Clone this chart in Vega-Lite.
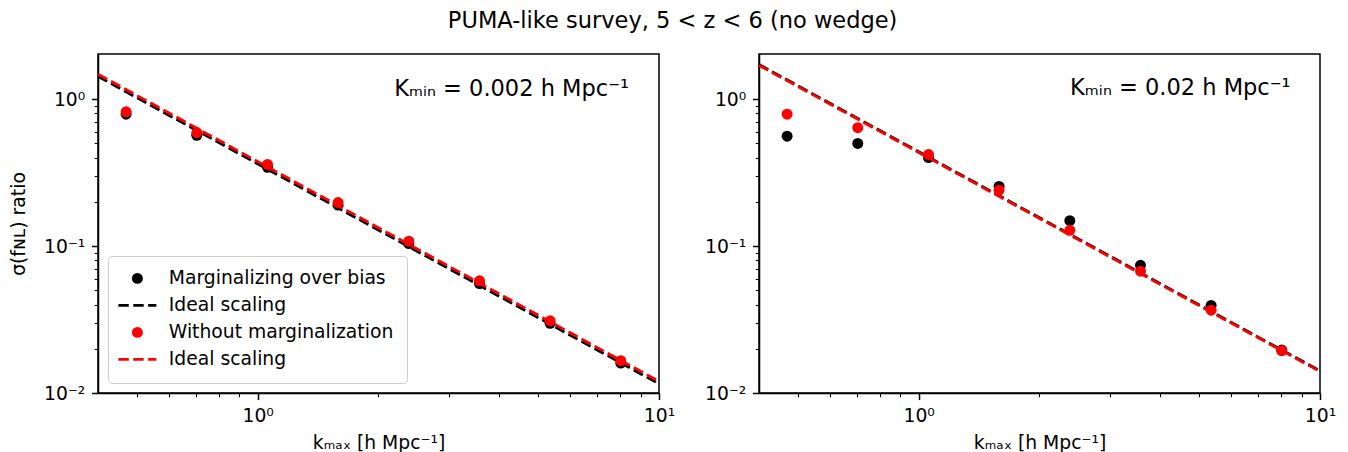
{
  "$schema": "https://vega.github.io/schema/vega-lite/v6.json",
  "padding": {"left": 8, "top": 9, "right": 5, "bottom": 0},
  "title": {
    "text": "PUMA-like survey, 5 < z < 6 (no wedge)",
    "fontSize": 22.5,
    "fontWeight": "normal",
    "font": "DejaVu Sans",
    "color": "black",
    "anchor": "middle",
    "offset": 21
  },
  "datasets": {
    "sigma": [
      {"panel": "L", "series": "a", "k": 0.47, "sigma": 0.79},
      {"panel": "L", "series": "a", "k": 0.705, "sigma": 0.568},
      {"panel": "L", "series": "a", "k": 1.058, "sigma": 0.344},
      {"panel": "L", "series": "a", "k": 1.586, "sigma": 0.19},
      {"panel": "L", "series": "a", "k": 2.38, "sigma": 0.104},
      {"panel": "L", "series": "a", "k": 3.57, "sigma": 0.0556},
      {"panel": "L", "series": "a", "k": 5.354, "sigma": 0.0298},
      {"panel": "L", "series": "a", "k": 8.03, "sigma": 0.016},
      {"panel": "L", "series": "c", "k": 0.47, "sigma": 0.82},
      {"panel": "L", "series": "c", "k": 0.705, "sigma": 0.593},
      {"panel": "L", "series": "c", "k": 1.058, "sigma": 0.36},
      {"panel": "L", "series": "c", "k": 1.586, "sigma": 0.198},
      {"panel": "L", "series": "c", "k": 2.38, "sigma": 0.108},
      {"panel": "L", "series": "c", "k": 3.57, "sigma": 0.058},
      {"panel": "L", "series": "c", "k": 5.354, "sigma": 0.031},
      {"panel": "L", "series": "c", "k": 8.03, "sigma": 0.0166},
      {"panel": "R", "series": "a", "k": 0.47, "sigma": 0.56},
      {"panel": "R", "series": "a", "k": 0.705, "sigma": 0.5},
      {"panel": "R", "series": "a", "k": 1.058, "sigma": 0.4},
      {"panel": "R", "series": "a", "k": 1.586, "sigma": 0.255},
      {"panel": "R", "series": "a", "k": 2.38, "sigma": 0.149},
      {"panel": "R", "series": "a", "k": 3.57, "sigma": 0.074},
      {"panel": "R", "series": "a", "k": 5.354, "sigma": 0.0395},
      {"panel": "R", "series": "a", "k": 8.03, "sigma": 0.0196},
      {"panel": "R", "series": "c", "k": 0.47, "sigma": 0.79},
      {"panel": "R", "series": "c", "k": 0.705, "sigma": 0.64},
      {"panel": "R", "series": "c", "k": 1.058, "sigma": 0.42},
      {"panel": "R", "series": "c", "k": 1.586, "sigma": 0.24},
      {"panel": "R", "series": "c", "k": 2.38, "sigma": 0.128},
      {"panel": "R", "series": "c", "k": 3.57, "sigma": 0.0675},
      {"panel": "R", "series": "c", "k": 5.354, "sigma": 0.0366},
      {"panel": "R", "series": "c", "k": 8.03, "sigma": 0.0194}
    ],
    "ideal": [
      {"panel": "L", "series": "b", "k": 0.4, "sigma": 1.43},
      {"panel": "L", "series": "b", "k": 10, "sigma": 0.01155},
      {"panel": "L", "series": "d", "k": 0.4, "sigma": 1.48},
      {"panel": "L", "series": "d", "k": 10, "sigma": 0.012},
      {"panel": "R", "series": "b", "k": 0.4, "sigma": 1.72},
      {"panel": "R", "series": "b", "k": 10, "sigma": 0.01415},
      {"panel": "R", "series": "d", "k": 0.4, "sigma": 1.7},
      {"panel": "R", "series": "d", "k": 10, "sigma": 0.014}
    ],
    "notes": [
      {"panel": "L", "k": 8.42, "sigma": 1.17, "label": "Kₘᵢₙ = 0.002 h Mpc⁻¹"},
      {"panel": "R", "k": 8.45, "sigma": 1.195, "label": "Kₘᵢₙ = 0.02 h Mpc⁻¹"}
    ]
  },
  "bounds": "flush",
  "spacing": 100,
  "resolve": {
    "scale": {"color": "independent", "x": "independent", "y": "independent"},
    "legend": {"color": "independent"}
  },
  "hconcat": [
    {
      "width": 561,
      "height": 339,
      "encoding": {
        "x": {
          "field": "k",
          "type": "quantitative",
          "scale": {"type": "log", "domain": [0.4, 10], "nice": false},
          "axis": {
            "title": "kₘₐₓ  [h Mpc⁻¹]",
            "titlePadding": 9,
            "values": [0.5, 0.6, 0.7, 0.8, 0.9, 1, 2, 3, 4, 5, 6, 7, 8, 9, 10],
            "labelExpr": "datum.value == 1 ? '10⁰' : datum.value == 10 ? '10¹' : ''",
            "tickSize": {"condition": {"test": "datum.value == 1 || datum.value == 10", "value": 6.6}, "value": 3.75},
            "tickWidth": {"condition": {"test": "datum.value == 1 || datum.value == 10", "value": 1.5}, "value": 1.1}
          }
        },
        "y": {
          "field": "sigma",
          "type": "quantitative",
          "scale": {"type": "log", "domain": [0.01, 2.03], "nice": false},
          "axis": {
            "title": "σ(fɴʟ) ratio",
            "values": [0.01, 0.02, 0.03, 0.04, 0.05, 0.06, 0.07, 0.08, 0.09, 0.1, 0.2, 0.3, 0.4, 0.5, 0.6, 0.7, 0.8, 0.9, 1],
            "labelExpr": "datum.value == 0.01 ? '10⁻²' : datum.value == 0.1 ? '10⁻¹' : datum.value == 1 ? '10⁰' : ''",
            "tickSize": {"condition": {"test": "datum.value == 0.01 || datum.value == 0.1 || datum.value == 1", "value": 6.6}, "value": 3.75},
            "tickWidth": {"condition": {"test": "datum.value == 0.01 || datum.value == 0.1 || datum.value == 1", "value": 1.5}, "value": 1.1},
            "titlePadding": 15
          }
        }
      },
      "layer": [
        {
          "data": {"name": "sigma"},
          "transform": [{"filter": "datum.panel == 'L' && datum.series == 'a'"}],
          "mark": {"type": "circle", "size": 120, "opacity": 1},
          "encoding": {
            "color": {
              "field": "series",
              "type": "nominal",
              "scale": {"domain": ["a", "b", "c", "d"], "range": ["black", "black", "red", "red"]},
              "legend": {
                "title": null,
                "orient": "bottom-left",
                "offset": 10,
                "padding": 13,
                "fillColor": "white",
                "strokeColor": "#cccccc",
                "cornerRadius": 4,
                "labelFontSize": 18.75,
                "labelFont": "DejaVu Sans",
                "labelColor": "black",
                "labelLimit": 400,
                "symbolOffset": 7,
                "labelOffset": 22,
                "rowPadding": 7,
                "symbolType": {"expr": "datum.value == 'b' || datum.value == 'd' ? 'stroke' : 'circle'"},
                "symbolSize": {"expr": "datum.value == 'b' || datum.value == 'd' ? 1444 : 120"},
                "symbolStrokeColor": {"expr": "datum.value == 'a' || datum.value == 'b' ? 'black' : 'red'"},
                "symbolStrokeWidth": {"expr": "datum.value == 'b' || datum.value == 'd' ? 2.8 : 0"},
                "symbolDash": {"expr": "datum.value == 'b' || datum.value == 'd' ? [10.4, 4.5] : [1, 0]"},
                "symbolOpacity": 1,
                "labelExpr": "datum.value == 'a' ? 'Marginalizing over bias' : datum.value == 'c' ? 'Without marginalization' : 'Ideal scaling'"
              }
            }
          }
        },
        {
          "data": {"name": "ideal"},
          "transform": [{"filter": "datum.panel == 'L' && datum.series == 'b'"}],
          "mark": {"type": "line", "strokeWidth": 2.8, "strokeDash": [10.4, 4.5], "clip": true},
          "encoding": {"color": {"field": "series", "type": "nominal"}}
        },
        {
          "data": {"name": "sigma"},
          "transform": [{"filter": "datum.panel == 'L' && datum.series == 'c'"}],
          "mark": {"type": "circle", "size": 120, "opacity": 1},
          "encoding": {"color": {"field": "series", "type": "nominal"}}
        },
        {
          "data": {"name": "ideal"},
          "transform": [{"filter": "datum.panel == 'L' && datum.series == 'd'"}],
          "mark": {"type": "line", "strokeWidth": 2.8, "strokeDash": [10.4, 4.5], "clip": true},
          "encoding": {"color": {"field": "series", "type": "nominal"}}
        },
        {
          "data": {"name": "notes"},
          "transform": [{"filter": "datum.panel == 'L'"}],
          "mark": {"type": "text", "align": "right", "baseline": "middle", "fontSize": 22.5, "font": "DejaVu Sans", "color": "black"},
          "encoding": {"text": {"field": "label"}}
        }
      ]
    },
    {
      "width": 561,
      "height": 339,
      "encoding": {
        "x": {
          "field": "k",
          "type": "quantitative",
          "scale": {"type": "log", "domain": [0.4, 10], "nice": false},
          "axis": {
            "title": "kₘₐₓ  [h Mpc⁻¹]",
            "titlePadding": 9,
            "values": [0.5, 0.6, 0.7, 0.8, 0.9, 1, 2, 3, 4, 5, 6, 7, 8, 9, 10],
            "labelExpr": "datum.value == 1 ? '10⁰' : datum.value == 10 ? '10¹' : ''",
            "tickSize": {"condition": {"test": "datum.value == 1 || datum.value == 10", "value": 6.6}, "value": 3.75},
            "tickWidth": {"condition": {"test": "datum.value == 1 || datum.value == 10", "value": 1.5}, "value": 1.1}
          }
        },
        "y": {
          "field": "sigma",
          "type": "quantitative",
          "scale": {"type": "log", "domain": [0.01, 2.03], "nice": false},
          "axis": {
            "title": null,
            "values": [0.01, 0.02, 0.03, 0.04, 0.05, 0.06, 0.07, 0.08, 0.09, 0.1, 0.2, 0.3, 0.4, 0.5, 0.6, 0.7, 0.8, 0.9, 1],
            "labelExpr": "datum.value == 0.01 ? '10⁻²' : datum.value == 0.1 ? '10⁻¹' : datum.value == 1 ? '10⁰' : ''",
            "tickSize": {"condition": {"test": "datum.value == 0.01 || datum.value == 0.1 || datum.value == 1", "value": 6.6}, "value": 3.75},
            "tickWidth": {"condition": {"test": "datum.value == 0.01 || datum.value == 0.1 || datum.value == 1", "value": 1.5}, "value": 1.1}
          }
        }
      },
      "layer": [
        {
          "data": {"name": "sigma"},
          "transform": [{"filter": "datum.panel == 'R' && datum.series == 'a'"}],
          "mark": {"type": "circle", "size": 120, "opacity": 1},
          "encoding": {
            "color": {
              "field": "series",
              "type": "nominal",
              "scale": {"domain": ["a", "b", "c", "d"], "range": ["black", "black", "red", "red"]},
              "legend": null
            }
          }
        },
        {
          "data": {"name": "ideal"},
          "transform": [{"filter": "datum.panel == 'R' && datum.series == 'b'"}],
          "mark": {"type": "line", "strokeWidth": 2.8, "strokeDash": [10.4, 4.5], "clip": true},
          "encoding": {"color": {"field": "series", "type": "nominal", "legend": null}}
        },
        {
          "data": {"name": "sigma"},
          "transform": [{"filter": "datum.panel == 'R' && datum.series == 'c'"}],
          "mark": {"type": "circle", "size": 120, "opacity": 1},
          "encoding": {"color": {"field": "series", "type": "nominal", "legend": null}}
        },
        {
          "data": {"name": "ideal"},
          "transform": [{"filter": "datum.panel == 'R' && datum.series == 'd'"}],
          "mark": {"type": "line", "strokeWidth": 2.8, "strokeDash": [10.4, 4.5], "clip": true},
          "encoding": {"color": {"field": "series", "type": "nominal", "legend": null}}
        },
        {
          "data": {"name": "notes"},
          "transform": [{"filter": "datum.panel == 'R'"}],
          "mark": {"type": "text", "align": "right", "baseline": "middle", "fontSize": 22.5, "font": "DejaVu Sans", "color": "black"},
          "encoding": {"text": {"field": "label"}}
        }
      ]
    }
  ],
  "config": {
    "font": "DejaVu Sans",
    "background": "white",
    "view": {"stroke": "black", "strokeWidth": 1.5},
    "axis": {
      "grid": false,
      "domainColor": "black",
      "domainWidth": 1.5,
      "tickColor": "black",
      "labelColor": "black",
      "titleColor": "black",
      "labelFont": "DejaVu Sans",
      "titleFont": "DejaVu Sans",
      "labelFontSize": 18.75,
      "titleFontSize": 18.75,
      "titleFontWeight": "normal",
      "labelPadding": 6.6,
      "labelOverlap": false,
      "labelFlush": false
    }
  }
}
